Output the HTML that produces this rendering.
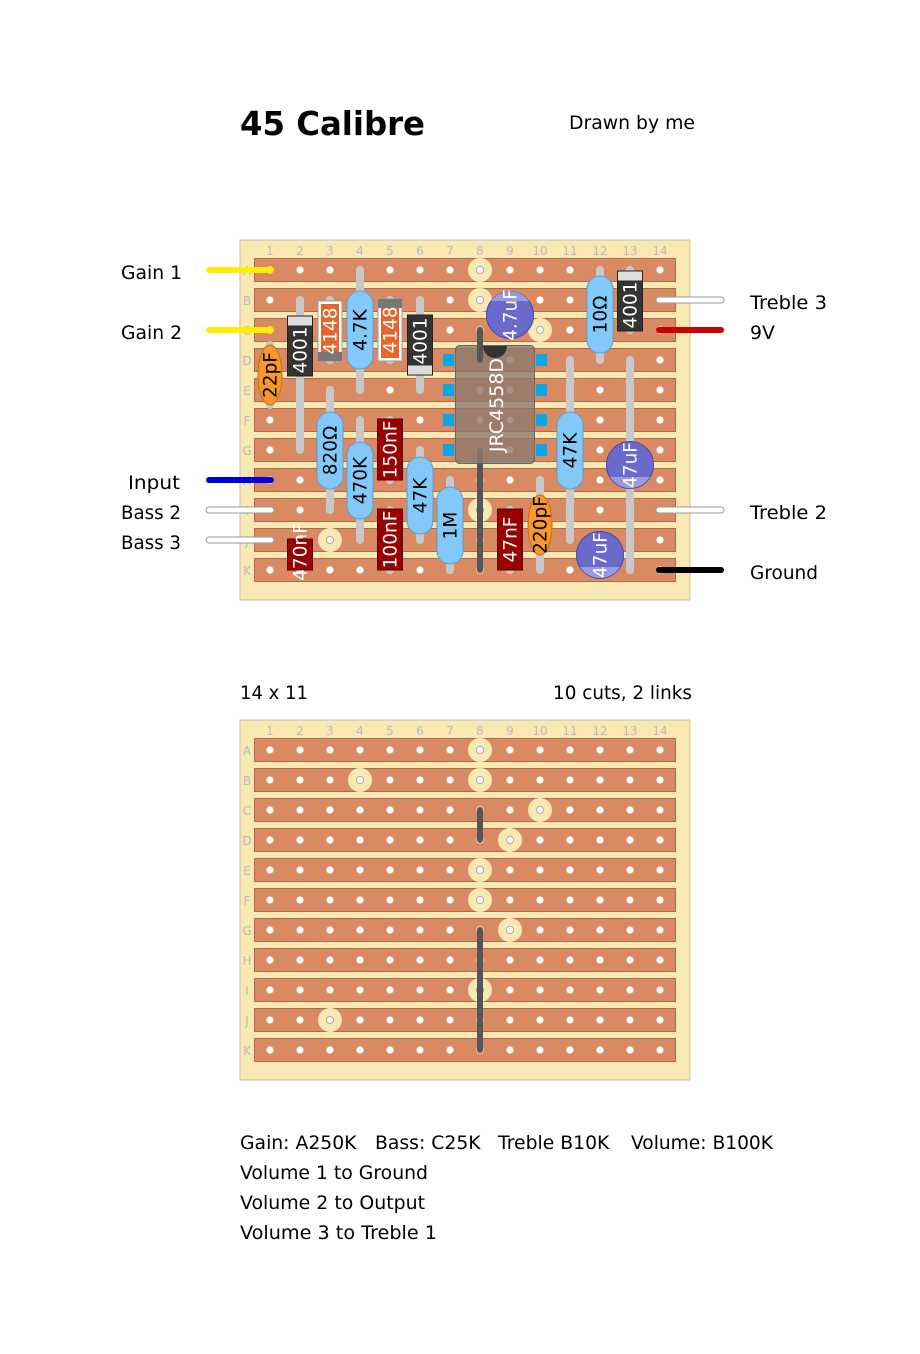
<!DOCTYPE html>
<html><head><meta charset="utf-8">
<style>
html,body{margin:0;padding:0;background:#fff;}
svg{display:block;}
text{font-family:"DejaVu Sans","Liberation Sans",sans-serif;}
</style></head>
<body>
<svg id="s" width="920" height="1354" viewBox="0 0 920 1354" xmlns="http://www.w3.org/2000/svg">
<text x="240" y="135" font-size="33" font-weight="bold" textLength="185" lengthAdjust="spacingAndGlyphs">45 Calibre</text>
<text x="569" y="129" font-size="19" textLength="126" lengthAdjust="spacingAndGlyphs">Drawn by me</text>
<g font-size="18.8">
<text x="121" y="279" textLength="61" lengthAdjust="spacingAndGlyphs">Gain 1</text>
<text x="121" y="339" textLength="61" lengthAdjust="spacingAndGlyphs">Gain 2</text>
<text x="128" y="489" textLength="52" lengthAdjust="spacingAndGlyphs">Input</text>
<text x="121" y="519" textLength="60" lengthAdjust="spacingAndGlyphs">Bass 2</text>
<text x="121" y="549" textLength="60" lengthAdjust="spacingAndGlyphs">Bass 3</text>
<text x="750" y="309" textLength="77" lengthAdjust="spacingAndGlyphs">Treble 3</text>
<text x="750" y="339">9V</text>
<text x="750" y="519" textLength="77" lengthAdjust="spacingAndGlyphs">Treble 2</text>
<text x="750" y="579" textLength="68" lengthAdjust="spacingAndGlyphs">Ground</text>
<text x="240" y="699" textLength="68" lengthAdjust="spacingAndGlyphs">14 x 11</text>
<text x="553" y="699" textLength="139" lengthAdjust="spacingAndGlyphs">10 cuts, 2 links</text>
<text x="240" y="1149">Gain: A250K</text>
<text x="375" y="1149">Bass: C25K</text>
<text x="498" y="1149">Treble B10K</text>
<text x="631" y="1149" textLength="142" lengthAdjust="spacingAndGlyphs">Volume: B100K</text>
<text x="240" y="1179" textLength="188" lengthAdjust="spacingAndGlyphs">Volume 1 to Ground</text>
<text x="240" y="1209" textLength="185" lengthAdjust="spacingAndGlyphs">Volume 2 to Output</text>
<text x="240" y="1239" textLength="197" lengthAdjust="spacingAndGlyphs">Volume 3 to Treble 1</text>
</g>
<g id="b1"></g>
<g id="b2"></g>
<g id="c1"></g>
</svg>
<script>
var NS="http://www.w3.org/2000/svg";
function el(p,t,a,txt){var e=document.createElementNS(NS,t);for(var k in a)e.setAttribute(k,a[k]);if(txt!=null)e.textContent=txt;p.appendChild(e);return e;}
var rows="ABCDEFGHIJK";
function board(g,y0,cuts,links){
 el(g,"rect",{x:240,y:y0,width:450,height:360,fill:"#f8e8b4",stroke:"#cdbf95","stroke-width":1});
 for(var c=1;c<=14;c++)el(g,"text",{x:240+c*30,y:y0+15,"font-size":12,fill:"#bbb","text-anchor":"middle"},c);
 for(var r=0;r<11;r++){var cy=y0+30+r*30;
  el(g,"rect",{x:254.5,y:cy-11.5,width:421,height:23,fill:"#d98a62",stroke:"#b06a4a","stroke-width":1});
  el(g,"text",{x:247,y:cy+5,"font-size":12,fill:"#bbb","text-anchor":"middle"},rows[r]);
 }
 cuts.forEach(function(p){el(g,"circle",{cx:240+p[0]*30,cy:y0+30+p[1]*30,r:12,fill:"#f8e8b4"});});
 for(var r=0;r<11;r++)for(var c=1;c<=14;c++){var cut=cuts.some(function(p){return p[0]==c&&p[1]==r});
  el(g,"circle",{cx:240+c*30,cy:y0+30+r*30,r:3.6,fill:"#fff",stroke:cut?"#aaa":"none","stroke-width":1});}
 links.forEach(function(l){el(g,"line",{x1:240+l[0]*30,y1:y0+30+l[1]*30,x2:240+l[0]*30,y2:y0+30+l[2]*30,stroke:"#555","stroke-width":6,"stroke-linecap":"round"});});
}
board(document.getElementById("b1"),240,[[8,0],[8,1],[10,2],[8,8],[3,9]],[[8,2,3],[8,6,10]]);
board(document.getElementById("b2"),720,[[8,0],[4,1],[8,1],[10,2],[9,3],[8,4],[8,5],[9,6],[8,8],[3,9]],[[8,2,3],[8,6,10]]);
var g=document.getElementById("c1");
function wire(x1,x2,y,col,bord){ if(bord)el(g,"line",{x1:x1,y1:y,x2:x2,y2:y,stroke:"#999","stroke-width":7,"stroke-linecap":"round"});
 el(g,"line",{x1:x1,y1:y,x2:x2,y2:y,stroke:col,"stroke-width":bord?5:6,"stroke-linecap":"round"});}
wire(209,271,270,"#ffee00");wire(209,271,330,"#ffee00");wire(209,271,480,"#0000dd");
wire(209,271,510,"#fff",1);wire(209,271,540,"#fff",1);
wire(659,721,300,"#fff",1);wire(659,721,330,"#cc0000");wire(659,721,510,"#fff",1);wire(659,721,570,"#000");
function lead(x,y1,y2){el(g,"line",{x1:x,y1:y1,x2:x,y2:y2,stroke:"#c8c8c8","stroke-width":8,"stroke-linecap":"round"});}
function rtext(x,y,t,col,fs){el(g,"text",{x:x,y:y,"font-size":fs||18.5,fill:col,"text-anchor":"middle",transform:"rotate(-90 "+x+" "+y+")","dominant-baseline":"central"},t);}
function res(x,y1,y2,b1,b2,t){lead(x,y1,y2);
 var w=13,m=12;
 el(g,"path",{d:"M"+(x-w)+","+(b1+m)+" a13,13 0 0 1 26,0 L"+(x+w)+","+(b2-m)+" a13,13 0 0 1 -26,0 Z",fill:"#82c8f8",stroke:"#5a9ed0","stroke-width":1});
 el(g,"rect",{x:x-10,y:b1+14,width:20,height:b2-b1-28,fill:"#82c8f8"});
 rtext(x+1,(b1+b2)/2,t,"#000");}
function diode(x,y1,y2,b1,b2,t,bandTop,light){lead(x,y1,y2);
 el(g,"rect",{x:x-12.5,y:b1,width:25,height:b2-b1,fill:"#333",stroke:"#222"});
 var bh=9;el(g,"rect",{x:x-12,y:bandTop?b1+0.5:b2-bh-0.5,width:24,height:bh,fill:light?"#ddd":"#777"});
 rtext(x+1,(b1+b2)/2+(bandTop?4:-4),t,"#fff");}
function sig(x,y1,y2,b1,b2,t,bandTop){lead(x,y1,y2);
 el(g,"rect",{x:x-12,y:b1,width:24,height:b2-b1,fill:"#fff",stroke:"#8aa0b0"});
 el(g,"rect",{x:x-9,y:b1+3,width:18,height:b2-b1-6,fill:"#e6662a"});
 el(g,"rect",{x:x-12,y:bandTop?b1:b2-9,width:24,height:9,fill:"#777"});
 rtext(x+1,(b1+b2)/2,t,"#fff");}
function box(x,y1,y2,b1,b2,t){lead(x,y1,y2);
 el(g,"rect",{x:x-12.5,y:b1,width:25,height:b2-b1,fill:"#990000",stroke:"#550000"});
 rtext(x+1,(b1+b2)/2,t,"#fff");}
function cer(x,y1,y2,cy,t){lead(x,y1,y2);
 el(g,"ellipse",{cx:x,cy:cy,rx:12,ry:30,fill:"#f7982a",stroke:"#c07010"});
 rtext(x+1,cy,t,"#000");}
cer(270,345,405,375,"22pF");
diode(300,300,450,316,376,"4001",true,true);
sig(330,300,360,301,361,"4148",false);
res(360,270,390,292,368,"4.7K");
sig(390,300,360,299,361,"4148",true);
diode(420,300,390,315,375,"4001",false,true);
res(600,270,360,277,352,"10Ω");
diode(630,270,330,271,331,"4001",true,true);
el(g,"rect",{x:455.5,y:345.5,width:79,height:118,rx:4,fill:"rgba(140,120,110,0.8)",stroke:"#666"});
el(g,"path",{d:"M483,346 a12,12 0 0 0 24,0 Z",fill:"#333"});
[360,390,420,450].forEach(function(y){el(g,"rect",{x:443,y:y-6,width:11,height:12,fill:"#0aa6e6"});el(g,"rect",{x:536,y:y-6,width:11,height:12,fill:"#0aa6e6"});});
el(g,"line",{x1:480,y1:330,x2:480,y2:360,stroke:"#555","stroke-width":6,"stroke-linecap":"round"});
rtext(497,405,"JRC4558D","#fff",19);
el(g,"circle",{cx:510,cy:315,r:23.5,fill:"#6a6acc",stroke:"#4848a0"});
el(g,"path",{d:"M491,301 A23.5,23.5 0 0 1 529,301 Z",fill:"#9a9ae0"});
rtext(511,315,"4.7uF","#fff");
res(330,390,510,413,488,"820Ω");
res(360,420,540,443,518,"470K");
box(390,420,480,419,480,"150nF");
res(420,450,540,458,533,"47K");
box(390,510,570,509,570,"100nF");
res(450,480,570,488,563,"1M");
box(510,510,570,509,570,"47nF");
cer(540,480,570,525,"220pF");
res(570,360,540,413,488,"47K");
lead(630,360,570);
el(g,"circle",{cx:630,cy:465,r:23.5,fill:"#6a6acc",stroke:"#4848a0"});
el(g,"path",{d:"M610,477 A23.5,23.5 0 0 0 650,477 Z",fill:"#9a9ae0"});
rtext(631,465,"47uF","#fff");
el(g,"circle",{cx:600,cy:555,r:23.5,fill:"#6a6acc",stroke:"#4848a0"});
el(g,"path",{d:"M580,567 A23.5,23.5 0 0 0 620,567 Z",fill:"#9a9ae0"});
rtext(601,555,"47uF","#fff");
el(g,"rect",{x:287.5,y:539,width:25,height:31,fill:"#990000",stroke:"#550000"});
rtext(301,552,"470nF","#fff");
</script>
</body></html>
